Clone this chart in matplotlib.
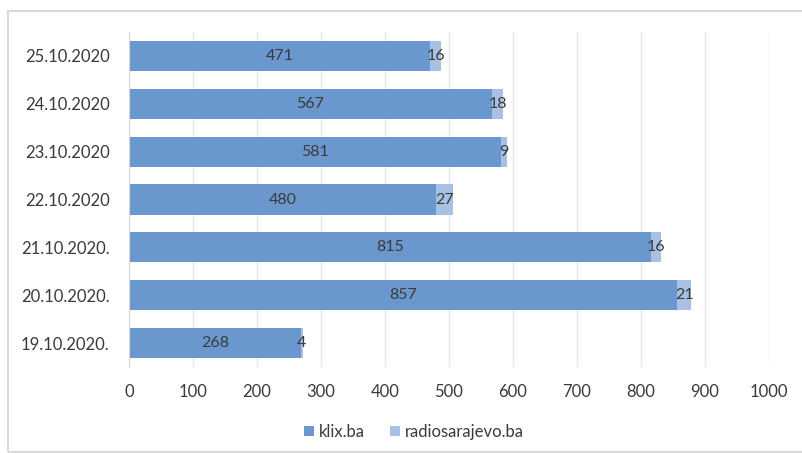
import numpy as np
import matplotlib.pyplot as plt
from matplotlib.patches import Rectangle

dates = ['19.10.2020.', '20.10.2020.', '21.10.2020.', '22.10.2020',
         '23.10.2020', '24.10.2020', '25.10.2020']
klix = [268, 857, 815, 480, 581, 567, 471]
radio = [4, 21, 16, 27, 9, 18, 16]

c_klix = '#6b97cf'
c_radio = '#a7c0e4'
txt = '#3a3a3a'

plt.rcParams['font.family'] = ['Lato', 'DejaVu Sans']

fig = plt.figure(figsize=(8.02, 4.53), dpi=100)
# outer chart frame
fig.patches.append(Rectangle((8/802, 1/453), 1.0, 1 - 12/453,
                             transform=fig.transFigure, fill=False,
                             edgecolor='#d9d9d9', linewidth=1.5))

ax = fig.add_axes([129/802, 1 - 367/453, 640/802, 335/453])
y = np.arange(len(dates))
h = 0.63
b1 = ax.barh(y, klix, height=h, color=c_klix, label='klix.ba', zorder=2)
b2 = ax.barh(y, radio, height=h, left=klix, color=c_radio,
             label='radiosarajevo.ba', zorder=2)

for i in range(len(dates)):
    ax.text(klix[i] / 2, y[i], str(klix[i]), ha='center', va='center',
            fontsize=11.5, color=txt)
    ax.text(klix[i] + radio[i] / 2, y[i], str(radio[i]), ha='center',
            va='center', fontsize=11.5, color=txt)

ax.set_xlim(0, 1000)
ax.set_ylim(-0.5, 6.5)
ax.set_xticks(np.arange(0, 1001, 100))
ax.set_yticks(y)
ax.set_yticklabels(dates)
ax.tick_params(axis='both', length=0, labelsize=12, labelcolor=txt)
ax.tick_params(axis='x', pad=12)
ax.tick_params(axis='y', pad=14)
ax.grid(axis='x', color='#e3e8ef', linewidth=1, zorder=0)
for s in ['top', 'right', 'bottom']:
    ax.spines[s].set_visible(False)
ax.spines['left'].set_color('#d9d9d9')

fig.legend(handles=[b1, b2], loc='center', bbox_to_anchor=(414/802, 1 - 432/453),
           ncol=2, frameon=False, fontsize=12, labelcolor=txt,
           handlelength=0.6, handleheight=0.6, handletextpad=0.3,
           columnspacing=1.5)

fig.savefig('out.png', dpi=100)
